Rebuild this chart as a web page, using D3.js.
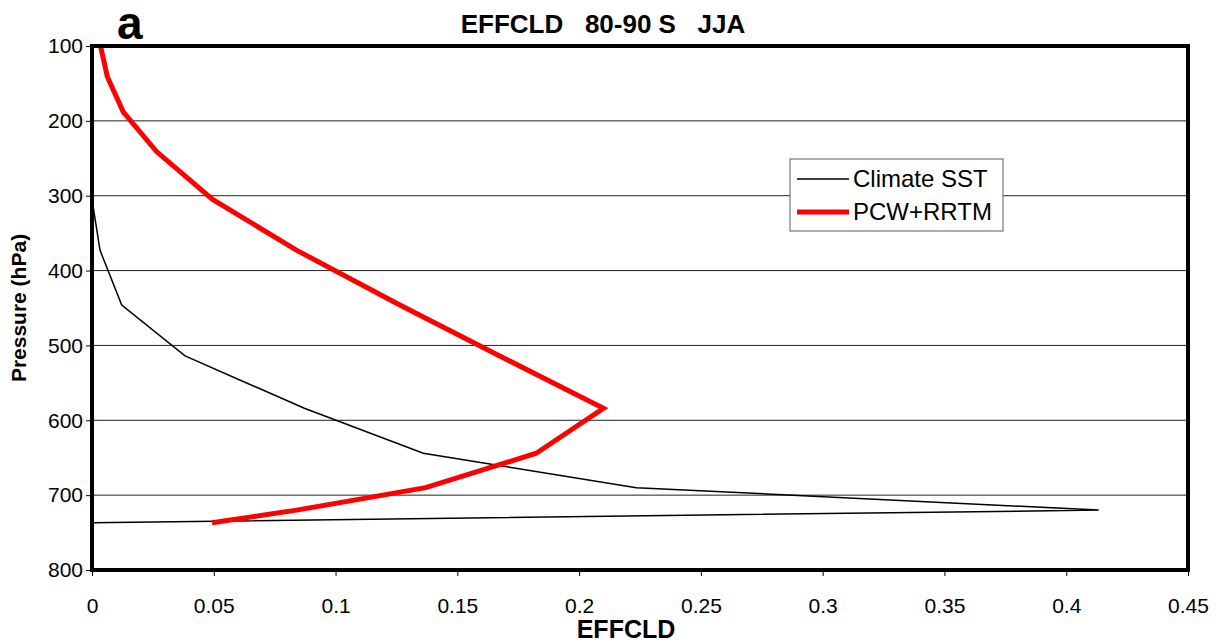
<!DOCTYPE html>
<html>
<head>
<meta charset="utf-8">
<script src="https://cdn.jsdelivr.net/npm/d3@7"></script>
<style>
    body { margin: 0; background: #fff; }
    text { font-family: Arial, "Liberation Sans", sans-serif; }
</style>
</head>
<body>
<svg id="chart" width="1217" height="642"></svg>
<script>
// model levels (hPa), shared by both runs
var pressure = [100, 141, 188, 241, 305, 373, 446, 514, 584, 644, 690, 720, 737]
// Climate SST run
var climateSST = [0, 0, 0, 0, 0, 0.0033, 0.0122, 0.0382, 0.0872, 0.136, 0.2235, 0.4133, 0]
// PCW+RRTM run
var pcwRRTM = [0.0035, 0.0063, 0.0128, 0.0265, 0.0495, 0.0841, 0.1264, 0.1674, 0.21, 0.1824, 0.137, 0.084, 0.0493]

var xTicks = [0, 0.05, 0.1, 0.15, 0.2, 0.25, 0.3, 0.35, 0.4, 0.45]
var yTicks = [100, 200, 300, 400, 500, 600, 700, 800]
var seriesNames = ["Climate SST", "PCW+RRTM"]

var svg = d3.select("#chart")
// note: "top" is taken by window.top, so keep the box in one object
var box = { left: 92, right: 1188, top: 46, bottom: 570 }

var x = d3.scaleLinear().domain([0, 0.45]).range([box.left, box.right])
var y = d3.scaleLinear().domain([100, 800]).range([box.top, box.bottom])

// horizontal grid lines
svg.append("g").selectAll("line")
    .data(yTicks.slice(1, -1)).enter().append("line")
    .attr("x1", box.left).attr("x2", box.right)
    .attr("y1", function(d) { return y(d) }).attr("y2", function(d) { return y(d) })
    .style("stroke", "#222").style("stroke-width", 1)

// axes, ticks outside
var yAxis = svg.append("g")
    .attr("transform", "translate(" + box.left + ",0)")
    .call(d3.axisLeft(y).tickValues(yTicks).tickSize(6).tickPadding(3)
        .tickFormat(d3.format("d")))
var xAxis = svg.append("g")
    .attr("transform", "translate(0," + box.bottom + ")")
    .call(d3.axisBottom(x).tickValues(xTicks).tickSize(6).tickPadding(22)
        .tickFormat(function(d) { return d === 0 ? "0" : String(d) }))

;[yAxis, xAxis].forEach(function(a) {
    a.select(".domain").remove()
    a.selectAll(".tick line").style("stroke", "#000").style("stroke-width", 1)
    a.selectAll(".tick text").style("font-size", "21px").style("fill", "#000")
})

function line(values) {
    return d3.line()
        .x(function(d, i) { return x(values[i]) })
        .y(function(d) { return y(d) })(pressure)
}

svg.append("path").attr("d", line(climateSST))
    .attr("fill", "none").attr("stroke", "#000").attr("stroke-width", 1.5)
svg.append("path").attr("d", line(pcwRRTM))
    .attr("fill", "none").attr("stroke", "#ff0000").attr("stroke-width", 5)

// plot frame
svg.append("rect")
    .attr("x", box.left).attr("y", box.top)
    .attr("width", box.right - box.left).attr("height", box.bottom - box.top)
    .attr("fill", "none").attr("stroke", "#000").attr("stroke-width", 4)

// legend
var lg = svg.append("g")
lg.append("rect").attr("x", 790).attr("y", 159).attr("width", 213).attr("height", 72)
    .attr("fill", "#fff").attr("stroke", "#777").attr("stroke-width", 1.2)
var legendRows = lg.selectAll(".row").data(seriesNames).enter().append("g")
    .attr("transform", function(d, i) { return "translate(0," + (179 + i * 33) + ")" })
legendRows.append("line").attr("x1", 797).attr("x2", 849)
    .attr("stroke", function(d, i) { return i ? "#ff0000" : "#000" })
    .attr("stroke-width", function(d, i) { return i ? 5 : 1.5 })
legendRows.append("text").attr("x", 853).attr("dy", "0.35em")
    .style("font-size", "24px").text(function(d) { return d })

// titles
svg.append("text").attr("x", 603).attr("y", 33).attr("text-anchor", "middle")
    .attr("xml:space", "preserve")
    .style("font-size", "26px").style("font-weight", "bold").style("white-space", "pre")
    .text("EFFCLD   80-90 S   JJA")
svg.append("text").attr("x", 117).attr("y", 39)
    .style("font-size", "46px").style("font-weight", "bold").text("a")
svg.append("text").attr("x", 626).attr("y", 638).attr("text-anchor", "middle")
    .style("font-size", "25px").style("font-weight", "bold").text("EFFCLD")
svg.append("text").attr("transform", "translate(26,308) rotate(-90)")
    .attr("text-anchor", "middle")
    .style("font-size", "21px").style("font-weight", "bold").text("Pressure (hPa)")
</script>
</body>
</html>
